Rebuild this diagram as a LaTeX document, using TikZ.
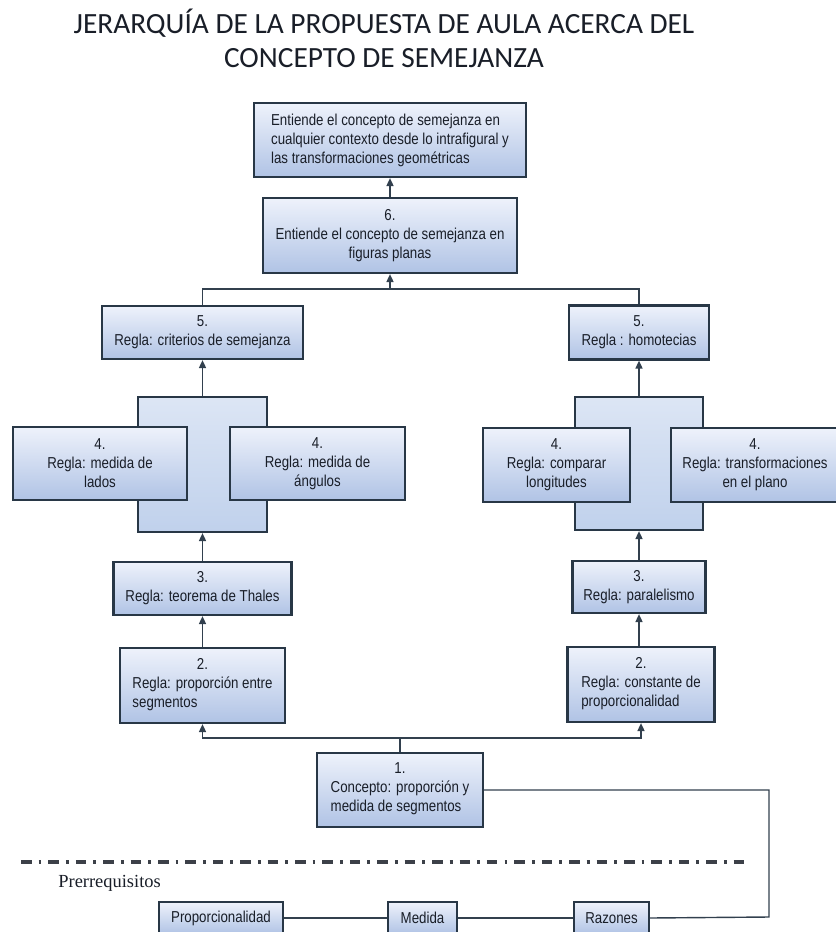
\documentclass[tikz,border=0pt]{standalone}
\usepackage{fontspec}
\usepackage{xcolor}
\usepackage{tikz}
\usetikzlibrary{positioning,arrows.meta}

\newfontfamily\titlefont{Carlito}
\newfontfamily\boxfont{Liberation Sans}[FakeStretch=0.84]
\newfontfamily\prfont{Liberation Serif}

\definecolor{boxline}{RGB}{40,55,70}
\definecolor{boxtop}{RGB}{238,242,251}
\definecolor{boxbot}{RGB}{176,195,229}
\definecolor{panelblue}{RGB}{192,209,236}
\definecolor{wire}{RGB}{50,64,78}
\definecolor{ink}{RGB}{25,30,40}

\newcommand\lblock[1]{\begin{tabular}[t]{@{}l@{}}#1\end{tabular}}

\tikzset{
  card/.style={draw=boxline, line width=1.3pt, top color=boxtop, bottom color=boxbot,
    text=ink, align=center, inner sep=1pt,
    font=\boxfont\fontsize{9}{10.8}\selectfont},
  panel/.style={draw=boxline, line width=1.3pt, top color=panelblue!55!white, bottom color=panelblue},
  wh/.style 2 args={minimum width=#1cm, minimum height=#2cm},
  wire/.style={draw=wire, line width=0.8pt},
  up/.style={wire, -{Triangle[length=4.5pt,width=4pt]}},
  cutline/.style={draw=ink!85, line width=2pt, dash pattern=on 6pt off 4pt on 1.6pt off 4pt},
  title/.style={font=\titlefont\fontsize{16.7}{20}\selectfont, text=ink, inner sep=0pt}
}

\begin{document}
\begin{tikzpicture}[x=0.02cm, y=-0.02cm]
  \useasboundingbox (0,0) rectangle (835,932);

  \node[title, anchor=base] (title1) at (384,34) {JERARQUÍA DE LA PROPUESTA DE AULA ACERCA DEL};
  \node[title, anchor=base] (title2) at (384,68) {CONCEPTO DE SEMEJANZA};

  \node[card, wh={5.44}{1.48}, align=left] (goal) at (390,140)
    {Entiende el concepto de semejanza en\\cualquier contexto desde lo intrafigural y\\las transformaciones geométricas};
  \node[card, wh={5.08}{1.50}] (six) at (390,235.5)
    {6.\\Entiende el concepto de semejanza en\\figuras planas};

  \node[card, wh={4.02}{1.06}] (criterios) at (202.5,332.5) {5.\\Regla: criterios de semejanza};
  \node[card, wh={2.80}{1.08}] (homotecias) at (639,332.5) {5.\\Regla : homotecias};

  \node[panel, wh={2.58}{2.70}] (panelL) at (202.5,464.5) {};
  \node[panel, wh={2.56}{2.66}] (panelR) at (639,463.5) {};

  \node[card, wh={3.48}{1.46}] (lados) at (100,463.5) {4.\\Regla: medida de\\lados};
  \node[card, wh={3.50}{1.46}] (angulos) at (317.5,463.5) {4.\\Regla: medida de\\ángulos};
  \node[card, wh={2.94}{1.48}] (longitudes) at (556.5,465) {4.\\Regla: comparar\\longitudes};
  \node[card, wh={3.36}{1.48}] (plano) at (755,465) {4.\\Regla: transformaciones\\en el plano};

  \node[card, wh={3.56}{1.06}] (thales) at (202.5,588.5) {3.\\Regla: teorema de Thales};
  \node[card, wh={2.66}{1.04}] (paralelismo) at (639,587) {3.\\Regla: paralelismo};

  \node[card, wh={3.30}{1.50}] (segmentos) at (202.5,685.5)
    {2.\\\lblock{Regla: proporción entre\\segmentos}};
  \node[card, wh={2.94}{1.50}] (constante) at (641,684.5)
    {2.\\\lblock{Regla: constante de\\proporcionalidad}};

  \node[card, wh={3.32}{1.48}] (concepto) at (400,790)
    {1.\\\lblock{Concepto: proporción y\\medida de segmentos}};

  \draw[cutline] (21,862) -- (744,862);
  \node[anchor=west, inner sep=0pt, text=ink, font=\prfont\fontsize{10.5}{12}\selectfont] (prer) at (58,883) {Prerrequisitos};

  \node[card, wh={2.48}{0.64}] (prop) at (221,918) {Proporcionalidad};
  \node[card, wh={1.38}{0.64}] (medida) at (422.5,918) {Medida};
  \node[card, wh={1.50}{0.64}] (razones) at (611.5,918) {Razones};

  \draw[up] (six.north) -- (goal.south);
  \coordinate (top) at (390,289);
  \draw[up] (top) -- (six.south);
  \draw[wire] (top) -| (criterios.north);
  \draw[wire] (top) -| (homotecias.north);

  \draw[up] (panelL.north) -- (criterios.south);
  \draw[up] (panelR.north) -- (homotecias.south);
  \draw[up] (thales.north) -- (panelL.south);
  \draw[up] (paralelismo.north) -- (panelR.south);
  \draw[up] (segmentos.north) -- (thales.south);
  \draw[up] (paralelismo.south |- constante.north) -- (paralelismo.south);

  \coordinate (fork) at (400,738);
  \draw[wire] (concepto.north) -- (fork);
  \draw[up] (fork) -| (segmentos.south);
  \draw[up] (fork) -| (constante.south);

  \coordinate (bend) at (769,917);
  \draw[wire] (concepto.east) -| (bend) -- (razones.east);
  \draw[wire] (razones.west) -- (medida.east);
  \draw[wire] (medida.west) -- (prop.east);
\end{tikzpicture}
\end{document}
